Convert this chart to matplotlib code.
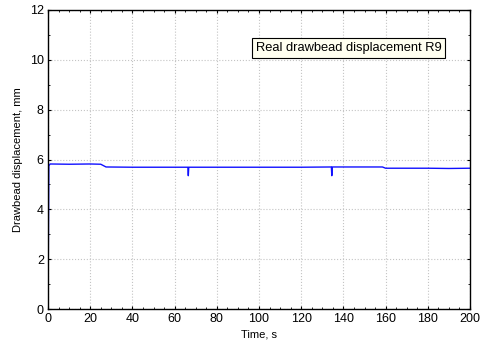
import matplotlib.pyplot as plt
from matplotlib.ticker import MultipleLocator

plt.rcParams['font.family'] = ['Liberation Sans', 'DejaVu Sans']

# drawbead displacement record (time in s, displacement in mm)
time = [0, 0.4, 1, 10, 20, 25, 27.5, 40, 66.3, 66.5, 66.7, 80, 100, 120,
        134.3, 134.5, 134.7, 150, 158.5, 160, 170, 180, 190, 200]
disp = [0, 5.75, 5.82, 5.81, 5.82, 5.81, 5.70, 5.69, 5.69, 5.35, 5.69, 5.69,
        5.69, 5.69, 5.70, 5.35, 5.70, 5.70, 5.70, 5.65, 5.65, 5.65, 5.64, 5.65]

fig = plt.figure(figsize=(4.86, 3.5), dpi=100)
ax = fig.add_axes([48 / 486, 41 / 350, 422 / 486, 299 / 350])

ax.plot(time, disp, color='#1010ff', lw=1.0)

ax.set_xlim(0, 200)
ax.set_ylim(0, 12)
ax.xaxis.set_major_locator(MultipleLocator(20))
ax.yaxis.set_major_locator(MultipleLocator(2))
ax.xaxis.set_minor_locator(MultipleLocator(5))
ax.yaxis.set_minor_locator(MultipleLocator(1))
ax.tick_params(which='both', direction='in', top=True, right=True,
               labelsize=9, colors='black', pad=3)
ax.tick_params(which='major', length=2.5)
ax.tick_params(which='minor', length=1.5)
ax.grid(True, which='major', color='#c4c4c4', ls=':', lw=0.8)
for s in ax.spines.values():
    s.set_linewidth(1.0)

ax.set_xlabel('Time, s', fontsize=8, labelpad=3)
ax.set_ylabel('Drawbead displacement, mm', fontsize=8, labelpad=5)

ax.text(0.932, 0.873, 'Real drawbead displacement R9', transform=ax.transAxes,
        ha='right', va='center', fontsize=9.3,
        bbox=dict(boxstyle='square,pad=0.28', fc='#fffff0', ec='black', lw=0.8))

fig.savefig('out.png', dpi=100)
